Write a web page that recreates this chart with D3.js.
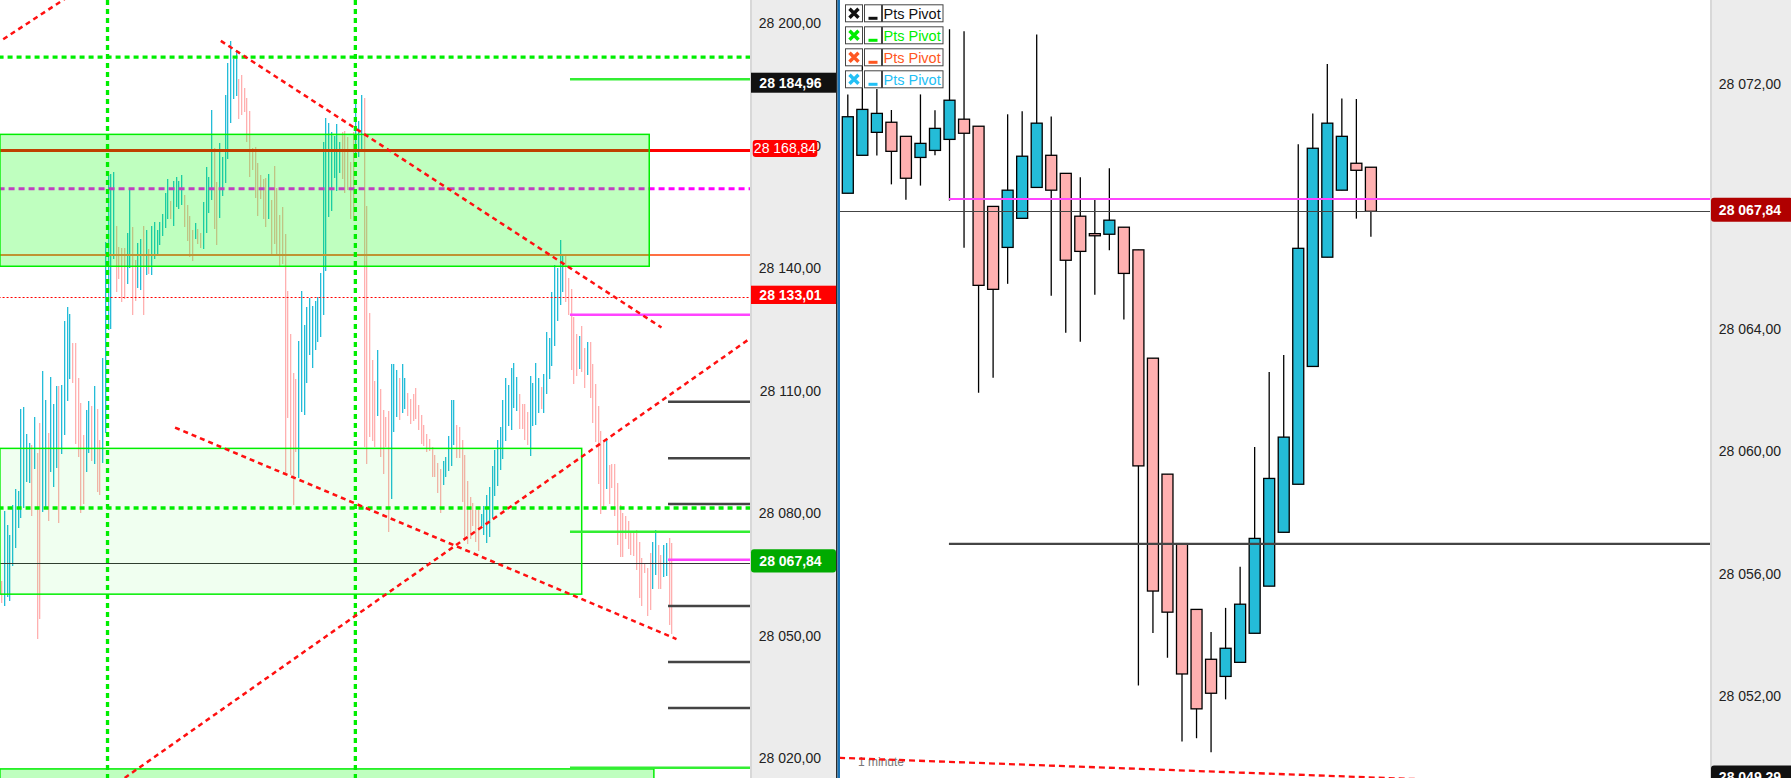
<!DOCTYPE html>
<html>
<head>
<meta charset="utf-8">
<script src="https://cdn.jsdelivr.net/npm/d3@7"></script>
<style>
  body { margin: 0; background: #fff; }
  text { font-family: "Liberation Sans", Arial, sans-serif; }
</style>
</head>
<body>
<script>
// ---- left panel : tick bars (high / low / direction 1 = up, 0 = down) ----
var leftHigh = [
  28063.4, 28080.6, 28077.1, 28074.7, 28082.0, 28086.0, 28085.5, 28105.6, 28106.0, 28099.4,
  28097.2, 28096.7, 28103.6, 28094.8, 28102.1, 28114.9, 28107.8, 28099.7, 28113.4, 28106.8,
  28111.2, 28111.2, 28111.4, 28127.1, 28130.5, 28128.8, 28121.7, 28121.7, 28113.1, 28107.0,
  28099.2, 28105.3, 28107.5, 28106.3, 28111.2, 28105.6, 28098.0, 28118.0, 28146.4, 28162.9,
  28163.1, 28163.6, 28150.4, 28145.2, 28145.0, 28145.0, 28148.7, 28159.2, 28150.1, 28142.0,
  28146.2, 28147.2, 28150.4, 28149.4, 28144.7, 28150.4, 28151.3, 28149.4, 28151.3, 28153.3,
  28158.4, 28161.9, 28156.5, 28161.4, 28162.4, 28161.4, 28162.9, 28158.0, 28155.5, 28152.8,
  28149.4, 28151.1, 28149.6, 28148.7, 28156.2, 28164.8, 28162.4, 28178.8, 28169.5, 28161.1,
  28170.7, 28167.3, 28182.4, 28190.3, 28195.7, 28191.3, 28193.5, 28186.4, 28187.3, 28184.2,
  28181.7, 28178.5, 28169.5, 28169.7, 28165.8, 28162.9, 28161.9, 28162.1, 28163.1, 28156.7,
  28165.1, 28159.7, 28153.1, 28155.0, 28148.4, 28134.4, 28123.9, 28114.4, 28112.9, 28122.2,
  28134.4, 28126.1, 28130.5, 28132.7, 28130.8, 28132.0, 28133.0, 28138.9, 28170.9, 28176.8,
  28175.6, 28173.4, 28172.4, 28175.3, 28170.9, 28173.4, 28173.6, 28172.2, 28166.0, 28173.4,
  28181.2, 28176.1, 28182.4, 28181.7, 28155.3, 28129.1, 28117.6, 28112.4, 28120.0, 28110.4,
  28105.3, 28103.6, 28105.1, 28116.6, 28116.6, 28115.1, 28113.1, 28116.6, 28113.1, 28109.5,
  28108.0, 28109.2, 28110.7, 28106.5, 28104.1, 28101.6, 28099.4, 28098.2, 28096.2, 28094.3,
  28092.3, 28090.9, 28092.8, 28093.8, 28098.9, 28107.8, 28107.8, 28101.6, 28101.1, 28098.0,
  28094.3, 28087.9, 28084.0, 28082.5, 28080.8, 28080.8, 28079.8, 28081.8, 28084.5, 28086.4,
  28091.6, 28095.5, 28098.0, 28101.1, 28107.8, 28113.1, 28111.4, 28115.6, 28116.8, 28113.4,
  28109.2, 28106.8, 28106.8, 28104.8, 28113.6, 28111.9, 28116.8, 28113.1, 28110.9, 28114.1,
  28124.4, 28122.9, 28134.2, 28140.8, 28140.1, 28146.9, 28143.3, 28143.3, 28137.6, 28134.9,
  28128.1, 28123.9, 28123.4, 28125.9, 28120.5, 28122.0, 28122.0, 28116.6, 28111.7, 28106.3,
  28100.2, 28098.0, 28098.0, 28091.8, 28092.1, 28092.1, 28087.4, 28082.0, 28080.1, 28079.3,
  28078.1, 28075.7, 28075.4, 28075.9, 28073.0, 28069.1, 28067.6, 28066.6, 28070.3, 28073.0,
  28075.9, 28072.2, 28069.8, 28072.2, 28072.7, 28074.0, 28072.7
];
var leftLow = [
  28058.1, 28057.4, 28059.6, 28058.4, 28067.2, 28071.6, 28076.5, 28078.9, 28081.4, 28087.7,
  28087.4, 28079.4, 28090.9, 28049.1, 28054.0, 28080.4, 28081.4, 28078.2, 28090.1, 28086.4,
  28091.1, 28077.7, 28094.5, 28099.2, 28107.5, 28112.9, 28111.9, 28097.0, 28093.8, 28080.1,
  28082.3, 28090.1, 28094.8, 28092.8, 28092.1, 28085.2, 28084.5, 28092.3, 28099.7, 28124.9,
  28125.1, 28142.3, 28134.2, 28137.4, 28131.8, 28132.5, 28136.2, 28140.1, 28128.6, 28132.0,
  28135.2, 28134.7, 28128.6, 28138.4, 28138.6, 28138.4, 28142.3, 28143.3, 28145.7, 28147.9,
  28149.9, 28152.1, 28152.1, 28150.4, 28155.0, 28154.5, 28155.5, 28150.1, 28146.7, 28142.8,
  28141.8, 28147.2, 28146.0, 28145.0, 28144.7, 28148.7, 28153.6, 28156.7, 28149.6, 28145.7,
  28152.3, 28157.7, 28160.9, 28166.8, 28175.6, 28181.5, 28182.2, 28176.6, 28177.6, 28178.3,
  28170.9, 28162.4, 28164.1, 28157.2, 28152.8, 28157.0, 28152.1, 28150.1, 28152.1, 28143.3,
  28146.0, 28143.5, 28140.6, 28141.1, 28089.4, 28103.3, 28089.4, 28082.0, 28095.0, 28088.7,
  28104.8, 28104.1, 28111.9, 28118.8, 28115.6, 28120.0, 28122.0, 28123.2, 28128.6, 28139.3,
  28152.6, 28154.0, 28162.1, 28158.9, 28163.3, 28161.9, 28158.4, 28159.2, 28152.1, 28151.6,
  28167.3, 28167.3, 28169.2, 28096.2, 28092.1, 28098.7, 28097.7, 28096.2, 28103.8, 28093.8,
  28089.6, 28096.2, 28075.4, 28083.5, 28099.9, 28103.6, 28102.9, 28104.6, 28105.6, 28103.8,
  28101.9, 28102.6, 28103.1, 28100.4, 28097.0, 28096.5, 28095.0, 28095.3, 28088.9, 28088.9,
  28085.0, 28080.1, 28086.9, 28088.9, 28090.4, 28091.6, 28096.7, 28093.6, 28093.6, 28082.8,
  28073.5, 28072.5, 28073.7, 28076.9, 28073.0, 28070.8, 28076.9, 28074.7, 28072.7, 28074.2,
  28078.9, 28084.2, 28086.7, 28090.6, 28093.3, 28097.7, 28101.4, 28100.4, 28105.8, 28105.1,
  28100.7, 28100.7, 28098.0, 28096.7, 28094.0, 28101.4, 28101.6, 28104.6, 28105.6, 28104.6,
  28109.2, 28112.9, 28116.1, 28121.0, 28127.1, 28131.0, 28134.2, 28131.8, 28128.6, 28115.1,
  28111.7, 28113.6, 28115.3, 28114.6, 28110.7, 28113.9, 28108.2, 28102.1, 28097.5, 28087.2,
  28079.8, 28081.3, 28086.0, 28082.3, 28086.2, 28079.3, 28072.2, 28069.3, 28069.3, 28073.7,
  28071.3, 28069.8, 28069.6, 28066.1, 28059.3, 28057.3, 28065.4, 28054.9, 28056.3, 28061.5,
  28064.9, 28061.5, 28061.5, 28064.4, 28064.7, 28052.7, 28050.4
];
var leftDir = (
  "0111111111" + "1010011011" + "1011110000" + "0110100111" + "1100001100" +
  "1101011111" + "1101111000" + "0100111100" + "1111111000" + "0000000010" +
  "0000000001" + "1111111111" + "1111100000" + "1110000010" + "0001110110" +
  "0000000000" + "0011111000" + "0000001111" + "1111111111" + "0000111101" +
  "1111111000" + "0010010000" + "0010000000" + "0000000001" + "1001100"
).split("").map(Number);

// levels drawn on the left panel (prices)
var leftGreenDash = [28191.7, 28081.3];
var leftGreenVert = [39, 130];             // bar index of the vertical session lines
var leftResistance = 28168.84;
var leftCoral = 28143.26;
var leftMagentaDash = 28159.5;
var leftRedDotted = 28133.01;
var lastPrice = 28067.84;
var leftShortGreen = [28186.3, 28075.5, 28017.7];
var leftShortMagenta = [28128.6, 28068.6];
var leftPivots = [28107.3, 28093.5, 28082.3, 28057.3, 28043.6, 28032.3];
// zones: [fromBar, toBar, top, bottom]
var leftZones = [
  [-0.5, 237.9, 28172.8, 28140.5],
  [-0.5, 213.1, 28095.9, 28060.2],
  [-0.5, 239.6, 28017.4, 27990.0]
];
// trend lines: [[bar, price], [bar, price]]
var leftTrends = [
  [[0.7, 28196.1], [30, 28208.9]],
  [[80.6, 28195.7], [242.4, 28125.5]],
  [[63.8, 28101.0], [247.9, 28049.2]],
  [[45.3, 28015.2], [275.1, 28122.9]]
];
var leftTicks = [28200, 28170, 28140, 28110, 28080, 28050, 28020];
var leftTags = [28184.96, 28168.84, 28133.01, 28067.84];

// ---- right panel : 1 minute candles ----
var rOpen = [
  28068.43, 28069.67, 28070.42, 28070.75, 28070.29, 28069.60, 28069.83, 28070.19, 28070.85, 28070.62,
  28068.00, 28066.66, 28067.61, 28068.62, 28069.67, 28069.08, 28067.68, 28067.11, 28067.09, 28067.32,
  28066.58, 28063.04, 28059.25, 28056.98, 28054.83, 28053.20, 28052.64, 28053.10, 28054.05, 28055.59,
  28057.35, 28058.92, 28062.77, 28066.34, 28068.53, 28069.41, 28069.28
];
var rHigh = [
  28071.66, 28073.00, 28071.84, 28071.15, 28070.29, 28071.66, 28071.14, 28073.79, 28073.72, 28070.62,
  28068.00, 28071.01, 28071.11, 28073.62, 28070.94, 28069.08, 28068.95, 28068.23, 28069.25, 28067.32,
  28066.58, 28063.04, 28059.25, 28056.98, 28054.83, 28054.09, 28054.88, 28056.22, 28060.14, 28062.59,
  28063.14, 28070.03, 28071.04, 28072.65, 28071.53, 28071.51, 28069.28
];
var rLow = [
  28068.43, 28069.67, 28069.66, 28068.72, 28068.22, 28068.68, 28069.67, 28068.19, 28066.65, 28061.91,
  28062.40, 28065.47, 28067.61, 28068.62, 28065.08, 28063.87, 28063.58, 28065.11, 28066.57, 28064.30,
  28052.34, 28054.06, 28053.25, 28050.51, 28050.62, 28050.16, 28051.89, 28053.10, 28054.05, 28055.59,
  28057.35, 28058.92, 28062.77, 28066.34, 28068.53, 28067.60, 28067.01
];
var rClose = [
  28070.93, 28071.17, 28071.04, 28069.80, 28068.92, 28070.06, 28070.55, 28071.47, 28070.39, 28065.42,
  28065.29, 28068.53, 28069.64, 28070.72, 28068.53, 28066.24, 28066.53, 28067.04, 28067.55, 28065.81,
  28059.52, 28055.43, 28054.74, 28052.72, 28051.58, 28052.09, 28053.56, 28055.00, 28057.15, 28059.11,
  28060.46, 28066.63, 28069.90, 28070.72, 28070.29, 28069.18, 28067.84
];
var rightMagenta = 28068.24;
var rightPivot = 28056.97;
var rightLevelStart = 6.96;               // candle index where the two levels begin
var rightTrend = [[-0.6, 28049.98], [60, 28048.92]];
var rightTicks = [28072, 28068, 28064, 28060, 28056, 28052];
var rightTags = [28067.84, 28049.29];
var legendLabels = ["Pts Pivot", "Pts Pivot", "Pts Pivot", "Pts Pivot"];

// ---- styles ----
var UP = "#24bcd8", DOWN = "#ffb0b0";
var legendColors = ["#111111", "#00ee00", "#ff5722", "#22c0f5"];
var leftTagColors = ["#111111", "#ff0000", "#ff0000", "#00aa00"];
var rightTagColors = ["#b00000", "#111111"];

var W = 1791, H = 778;
var fmt = d3.formatLocale({ decimal: ",", thousands: " ", grouping: [3], currency: ["", ""] }).format(",.2f");

var svg = d3.select("body").append("svg")
  .attr("width", W)
  .attr("height", H);

var defs = svg.append("defs");
defs.append("clipPath").attr("id", "clipL")
  .append("rect").attr("x", 0).attr("y", 0).attr("width", 751).attr("height", H);
defs.append("clipPath").attr("id", "clipR")
  .append("rect").attr("x", 840).attr("y", 0).attr("width", 871).attr("height", H);

// ================= LEFT PANEL =================
var xL = d3.scaleLinear().domain([0, leftHigh.length - 1]).range([1.3, 671.3]);
var yL = d3.scaleLinear().domain([28200, 28020]).range([23.3, 758.3]);
var leftEnd = xL.invert(751);

var gL = svg.append("g").attr("clip-path", "url(#clipL)");

// bars snapped to whole pixels so they stay crisp like the platform draws them
gL.selectAll(".tick-bar")
  .data(leftHigh)
  .enter().append("rect")
  .attr("class", "tick-bar")
  .attr("x", function(d, i) { return Math.round(xL(i)); })
  .attr("y", function(d) { return Math.round(yL(d)); })
  .attr("width", 1.3)
  .attr("height", function(d, i) { return Math.max(1, Math.round(yL(leftLow[i])) - Math.round(yL(d))); })
  .attr("fill", function(d, i) { return leftDir[i] ? UP : DOWN; });

function hline(g, price, from, to, color, width, dash) {
  var y = yL(price);
  if (width <= 1) y = Math.round(y) + 0.5;
  var l = g.append("line")
    .attr("x1", xL(from)).attr("x2", xL(to))
    .attr("y1", y).attr("y2", y)
    .attr("stroke", color).attr("stroke-width", width);
  if (dash) l.attr("stroke-dasharray", dash);
  return l;
}

hline(gL, leftResistance, -1, leftEnd, "#ff0000", 3);
hline(gL, leftCoral, -1, leftEnd, "#ff7043", 2);
hline(gL, leftMagentaDash, -1, leftEnd, "#ff00ff", 3, "6,4");
hline(gL, leftRedDotted, -1, leftEnd, "#ff0000", 1, "2,2");
hline(gL, lastPrice, -1, leftEnd, "#333333", 1);

// zones on top of the bars (translucent)
var zoneFill = ["rgba(0,255,0,0.25)", "rgba(0,255,0,0.06)", "rgba(0,255,0,0.25)"];
gL.selectAll(".zone")
  .data(leftZones)
  .enter().append("rect")
  .attr("class", "zone")
  .attr("x", function(d) { return xL(d[0]); })
  .attr("y", function(d) { return yL(d[2]); })
  .attr("width", function(d) { return xL(d[1]) - xL(d[0]); })
  .attr("height", function(d) { return yL(d[3]) - yL(d[2]); })
  .attr("fill", function(d, i) { return zoneFill[i]; })
  .attr("stroke", "#00ee00")
  .attr("stroke-width", 1.5);

leftShortGreen.forEach(function(p) { hline(gL, p, 208.8, leftEnd, "#33ee33", 2.5); });
hline(gL, leftShortMagenta[0], 208.8, leftEnd, "#ff44ff", 2.5);
hline(gL, leftShortMagenta[1], 244.8, leftEnd, "#ff44ff", 2.5);
leftPivots.forEach(function(p) { hline(gL, p, 244.8, leftEnd, "#444444", 2.5); });

leftGreenDash.forEach(function(p) { hline(gL, p, -1, leftEnd, "#00ee00", 3.3, "5,4"); });
gL.selectAll(".vdash")
  .data(leftGreenVert)
  .enter().append("line")
  .attr("x1", function(d) { return xL(d); })
  .attr("x2", function(d) { return xL(d); })
  .attr("y1", 0).attr("y2", H)
  .attr("stroke", "#00ee00")
  .attr("stroke-width", 3.3)
  .attr("stroke-dasharray", "5,4");

var lineL = d3.line()
  .x(function(d) { return xL(d[0]); })
  .y(function(d) { return yL(d[1]); });
gL.selectAll(".trend")
  .data(leftTrends)
  .enter().append("path")
  .attr("d", lineL)
  .attr("fill", "none")
  .attr("stroke", "#ff1010")
  .attr("stroke-width", 2.5)
  .attr("stroke-dasharray", "5,4");

// left price axis
svg.append("rect").attr("x", 751).attr("y", 0).attr("width", 85).attr("height", H).attr("fill", "#ececec");
svg.append("rect").attr("x", 750).attr("y", 0).attr("width", 2).attr("height", H).attr("fill", "#d8d8d8");

var axL = svg.append("g")
  .attr("transform", "translate(821,0)")
  .call(d3.axisLeft(yL).tickValues(leftTicks).tickSize(0).tickPadding(0).tickFormat(fmt));
axL.select(".domain").remove();
axL.selectAll("text").attr("font-size", 14).attr("fill", "#222")
  .style("font-family", "'Liberation Sans', Arial, sans-serif");

var leftTagBox = [
  { x: 751, w: 85, h: 20, bold: true },
  { x: 752.7, w: 64.6, h: 17, bold: false },
  { x: 751, w: 85, h: 18.3, bold: true },
  { x: 751, w: 85, h: 23.3, bold: true }
];
leftTags.forEach(function(v, i) {
  var b = leftTagBox[i], cy = yL(v) - 2;
  svg.append("rect")
    .attr("x", b.x).attr("y", cy - b.h / 2)
    .attr("width", b.w).attr("height", b.h)
    .attr("rx", i === 0 || i === 2 ? 0 : 3)
    .attr("fill", leftTagColors[i]);
  svg.append("text")
    .attr("x", b.x + b.w / 2 + (b.bold ? -3 : 0)).attr("y", cy)
    .attr("dy", "0.35em")
    .attr("text-anchor", "middle")
    .attr("font-size", 14)
    .attr("font-weight", b.bold ? "bold" : "normal")
    .attr("fill", "#fff")
    .text(fmt(v));
});

// separator between the two charts
svg.append("rect").attr("x", 836).attr("y", 0).attr("width", 1.5).attr("height", H).attr("fill", "#2b2b2b");
svg.append("rect").attr("x", 837.5).attr("y", 0).attr("width", 2.5).attr("height", H).attr("fill", "#1a72b4");

// ================= RIGHT PANEL =================
var xR = d3.scaleLinear().domain([0, rOpen.length - 1]).range([847.8, 1370.9]);
var yR = d3.scaleLinear().domain([28072, 28052]).range([84, 696]);
var rightEnd = xR.invert(1711);

var gR = svg.append("g").attr("clip-path", "url(#clipR)");

var candles = rOpen.map(function(o, i) {
  return { i: i, o: o, h: rHigh[i], l: rLow[i], c: rClose[i] };
});

gR.selectAll(".wick")
  .data(candles)
  .enter().append("line")
  .attr("x1", function(d) { return xR(d.i); })
  .attr("x2", function(d) { return xR(d.i); })
  .attr("y1", function(d) { return yR(d.h); })
  .attr("y2", function(d) { return yR(d.l); })
  .attr("stroke", "#000")
  .attr("stroke-width", 1.3);

gR.selectAll(".body")
  .data(candles)
  .enter().append("rect")
  .attr("x", function(d) { return xR(d.i) - 5.5; })
  .attr("y", function(d) { return yR(Math.max(d.o, d.c)); })
  .attr("width", 11)
  .attr("height", function(d) { return Math.max(1.5, yR(Math.min(d.o, d.c)) - yR(Math.max(d.o, d.c))); })
  .attr("fill", function(d) { return d.c >= d.o ? UP : DOWN; })
  .attr("stroke", "#000")
  .attr("stroke-width", 1.3);

function hlineR(price, from, to, color, width) {
  var y = yR(price);
  if (width <= 1) y = Math.round(y) + 0.5;
  gR.append("line")
    .attr("x1", xR(from)).attr("x2", xR(to))
    .attr("y1", y).attr("y2", y)
    .attr("stroke", color).attr("stroke-width", width);
}
hlineR(lastPrice, -1, rightEnd, "#444444", 1);
hlineR(rightMagenta, rightLevelStart, rightEnd, "#ff44ff", 2);
hlineR(rightPivot, rightLevelStart, rightEnd, "#444444", 2.3);

gR.append("text")
  .attr("x", 858).attr("y", 766)
  .attr("font-size", 12)
  .attr("fill", "#777")
  .text("1 minute");

var lineR = d3.line()
  .x(function(d) { return xR(d[0]); })
  .y(function(d) { return yR(d[1]); });
gR.append("path")
  .datum(rightTrend)
  .attr("d", lineR)
  .attr("fill", "none")
  .attr("stroke", "#ff1010")
  .attr("stroke-width", 2.3)
  .attr("stroke-dasharray", "6,4");

// legend
var leg = svg.append("g");
legendLabels.forEach(function(label, i) {
  var y0 = 4.3 + i * 22, col = legendColors[i];
  var row = leg.append("g").attr("transform", "translate(845," + y0 + ")");
  row.append("rect").attr("x", 0.5).attr("y", 0.5).attr("width", 17).attr("height", 17)
    .attr("fill", "#fff").attr("stroke", "#444").attr("stroke-width", 1);
  row.append("rect").attr("x", 19.5).attr("y", 0.5).attr("width", 17).attr("height", 17)
    .attr("fill", "#fff").attr("stroke", "#444").attr("stroke-width", 1);
  row.append("rect").attr("x", 37.5).attr("y", 0.5).attr("width", 60.5).attr("height", 17)
    .attr("fill", "#fff").attr("stroke", "#444").attr("stroke-width", 1);
  row.append("path").attr("d", "M4.5,4.5L13.5,13.5M13.5,4.5L4.5,13.5")
    .attr("stroke", col).attr("stroke-width", 3.4);
  row.append("rect").attr("x", 23.5).attr("y", 12.5).attr("width", 9).attr("height", 3).attr("fill", col);
  row.append("text").attr("x", 38.5).attr("y", 14.5).attr("font-size", 14.5).attr("fill", col).text(label);
});

// right price axis
svg.append("rect").attr("x", 1711).attr("y", 0).attr("width", 80).attr("height", H).attr("fill", "#ececec");
svg.append("rect").attr("x", 1710).attr("y", 0).attr("width", 2).attr("height", H).attr("fill", "#d8d8d8");

var axR = svg.append("g")
  .attr("transform", "translate(1781,0)")
  .call(d3.axisLeft(yR).tickValues(rightTicks).tickSize(0).tickPadding(0).tickFormat(fmt));
axR.select(".domain").remove();
axR.selectAll("text").attr("font-size", 14).attr("fill", "#222")
  .style("font-family", "'Liberation Sans', Arial, sans-serif");

rightTags.forEach(function(v, i) {
  var cy = yR(v) - 1.5;
  svg.append("rect")
    .attr("x", 1711).attr("y", cy - 12)
    .attr("width", 82).attr("height", 24)
    .attr("rx", 3)
    .attr("fill", rightTagColors[i]);
  svg.append("text")
    .attr("x", 1750).attr("y", cy)
    .attr("dy", "0.35em")
    .attr("text-anchor", "middle")
    .attr("font-size", 14)
    .attr("font-weight", "bold")
    .attr("fill", "#fff")
    .text(fmt(v));
});
</script>
</body>
</html>
